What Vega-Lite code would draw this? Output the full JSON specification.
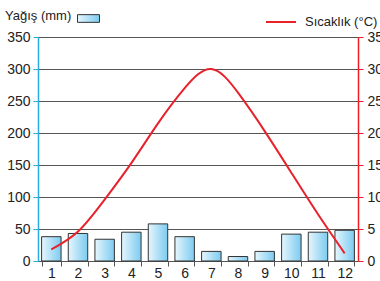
{
  "$schema": "https://vega.github.io/schema/vega-lite/v6.json",
  "width": 320,
  "height": 224,
  "autosize": {"type": "none"},
  "padding": {"left": 38, "top": 37, "right": 22, "bottom": 20},
  "background": "white",
  "config": {
    "font": "Liberation Sans",
    "view": {"stroke": null},
    "axis": {"labelFont": "Liberation Sans", "labelFontSize": 14, "labelColor": "#222222"},
    "legend": {"labelFont": "Liberation Sans", "titleFont": "Liberation Sans"}
  },
  "data": {
    "values": [
      {"month": 1, "rain": 38, "temp": 1.8},
      {"month": 2, "rain": 43, "temp": 4.6},
      {"month": 3, "rain": 34, "temp": 9.6},
      {"month": 4, "rain": 45, "temp": 15.3},
      {"month": 5, "rain": 58, "temp": 21.5},
      {"month": 6, "rain": 38, "temp": 27},
      {"month": 7, "rain": 15, "temp": 30},
      {"month": 8, "rain": 7, "temp": 26.3},
      {"month": 9, "rain": 15, "temp": 20.3},
      {"month": 10, "rain": 42, "temp": 13.8},
      {"month": 11, "rain": 45, "temp": 7.3},
      {"month": 12, "rain": 48, "temp": 1.2}
    ]
  },
  "layer": [
    {
      "mark": {
        "type": "bar",
        "fill": {"gradient": "linear", "x1": 0, "x2": 1, "y1": 0, "y2": 0,
          "stops": [{"offset": 0, "color": "#e6f6fd"}, {"offset": 1, "color": "#7ccbf0"}]},
        "strokeWidth": 1
      },
      "encoding": {
        "x": {
          "field": "month", "type": "ordinal",
          "scale": {"paddingInner": 0.27},
          "axis": {"title": null, "labelAngle": 0, "tickBand": "extent", "domainColor": "#555555", "tickColor": "#555555", "tickSize": 5, "labelPadding": 0}
        },
        "y": {
          "field": "rain", "type": "quantitative",
          "scale": {"domain": [0, 350], "nice": false},
          "axis": {"title": null, "values": [0, 50, 100, 150, 200, 250, 300, 350], "grid": true, "gridColor": "#555555", "gridOpacity": 1, "domainColor": "#29abe2", "domainWidth": 1.5, "tickColor": "#29abe2", "tickSize": 5, "labelPadding": 3}
        },
        "stroke": {
          "datum": "Yağış (mm)",
          "scale": {"range": ["#333333"]},
          "legend": {
            "orient": "none", "legendX": -33, "legendY": -30,
            "title": "Yağış (mm)", "titleOrient": "left", "titleFontSize": 13, "titleFontWeight": "normal", "titleColor": "#222222", "titleBaseline": "middle",
            "labelExpr": "''",
            "symbolType": "M-1,-0.35H1V0.35H-1Z", "symbolSize": 484, "symbolStrokeWidth": 1,
            "symbolFillColor": "#aee0f7", "symbolStrokeColor": "#333333"
          }
        }
      }
    },
    {
      "mark": {"type": "line", "interpolate": "natural", "strokeWidth": 2},
      "encoding": {
        "x": {"field": "month", "type": "ordinal"},
        "y": {
          "field": "temp", "type": "quantitative",
          "scale": {"domain": [0, 35], "nice": false},
          "axis": {"orient": "right", "title": null, "values": [0, 5, 10, 15, 20, 25, 30, 35], "grid": false, "domainColor": "#ee1c25", "domainWidth": 1.5, "tickColor": "#ee1c25", "tickSize": 5, "labelPadding": 4}
        },
        "stroke": {
          "datum": "Sıcaklık (°C)",
          "scale": {"range": ["#e8212b"]},
          "legend": {
            "orient": "none", "legendX": 227, "legendY": -31,
            "title": null, "symbolType": "stroke", "symbolSize": 900, "symbolStrokeWidth": 2,
            "labelFontSize": 13, "labelColor": "#222222", "labelOffset": 8
          }
        }
      }
    }
  ],
  "resolve": {"scale": {"y": "independent", "stroke": "independent"}}
}
